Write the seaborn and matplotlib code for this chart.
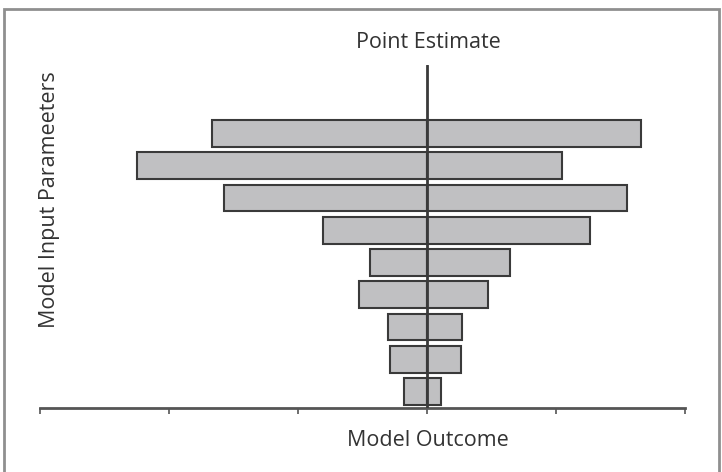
import matplotlib
matplotlib.use("Agg")
import matplotlib.pyplot as plt
import seaborn as sns
import pandas as pd
from matplotlib.patches import Rectangle

# Data (model outcome deviation from the point estimate, arbitrary units)
parameters = ["P1", "P2", "P3", "P4", "P5", "P6", "P7", "P8", "P9"]
low_values = [-1.67, -2.25, -1.57, -0.81, -0.44, -0.53, -0.30, -0.29, -0.18]
high_values = [1.66, 1.05, 1.55, 1.26, 0.64, 0.47, 0.27, 0.26, 0.11]
x_ticks = [-3, -2, -1, 0, 1, 2]

df = pd.DataFrame({"param": parameters, "low": low_values, "high": high_values})

sns.set_theme(style="white")
plt.rcParams["font.family"] = ["Open Sans", "DejaVu Sans"]

W, H = 722, 472
fig = plt.figure(figsize=(W / 100, H / 100), dpi=100)
ax = fig.add_axes([40 / W, (H - 408) / H, (685 - 40) / W, (408 - 65) / H])

bar_kw = dict(orient="h", color="#c0c0c2", edgecolor="#3a3a3a", linewidth=1.5,
              width=0.83, saturation=1, ax=ax)
sns.barplot(data=df, x="low", y="param", **bar_kw)
sns.barplot(data=df, x="high", y="param", **bar_kw)

ax.axvline(0, color="#3a3a3a", lw=2.0, zorder=5)

ax.set_xlim(-3, 2)
ax.set_ylim(8.51, -2.12)
ax.set_xticks(x_ticks)
ax.set_xticklabels([])
ax.set_yticks([])
ax.set_xlabel("")
ax.set_ylabel("")
ax.tick_params(axis="x", bottom=True, length=4, width=1.2, color="#555555", direction="out")
for s in ["top", "right", "left"]:
    ax.spines[s].set_visible(False)
ax.spines["bottom"].set_color("#555555")
ax.spines["bottom"].set_linewidth(2.0)

fig.text(428 / W, 1 - 42 / H, "Point Estimate", ha="center", va="center",
         fontsize=15.5, color="#333333")
fig.text(428 / W, 1 - 441 / H, "Model Outcome", ha="center", va="center",
         fontsize=15.5, color="#333333")
fig.text(50 / W, 1 - 200 / H, "Model Input Parameeters", ha="center", va="center",
         rotation=90, fontsize=15.5, color="#333333")

# outer frame
fig.patches.append(Rectangle((4 / W, -0.05), (719 - 4) / W, 1.05 - 9 / H,
                             transform=fig.transFigure, fill=False,
                             edgecolor="#8f8f8f", linewidth=2.0))

fig.savefig("out.png", dpi=100)
